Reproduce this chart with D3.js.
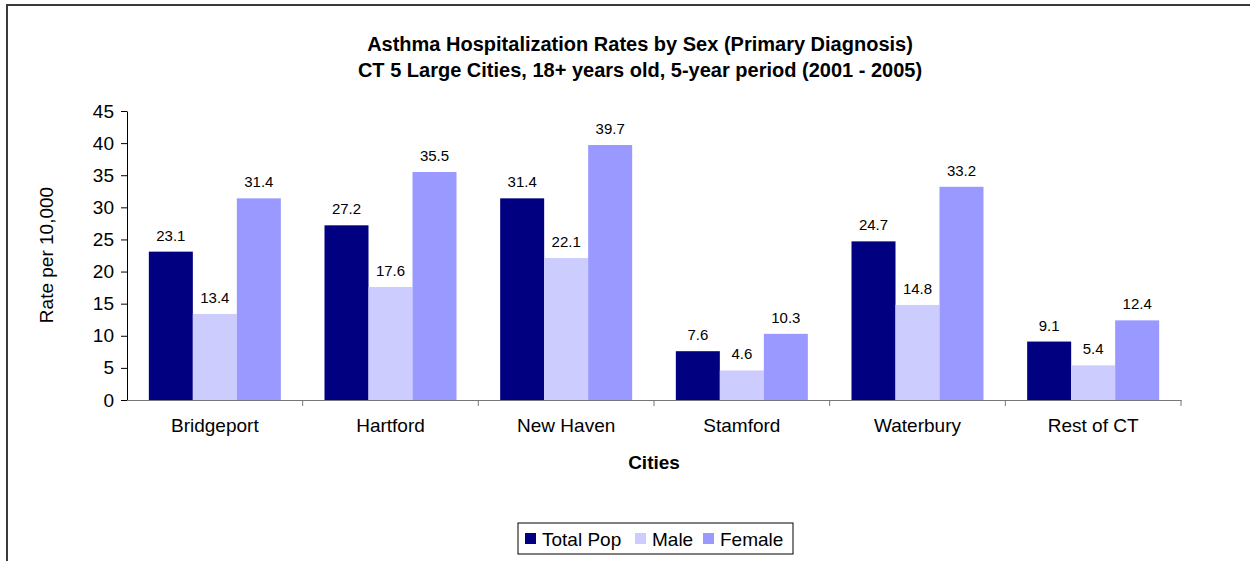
<!DOCTYPE html>
<html>
<head>
<meta charset="utf-8">
<script src="https://cdn.jsdelivr.net/npm/d3@7/dist/d3.min.js"></script>
<style>
  body { margin: 0; background: #fff; }
  text { font-family: "Liberation Sans", Arial, sans-serif; }
</style>
</head>
<body>
<div id="chart"></div>
<script>
var cities = ["Bridgeport", "Hartford", "New Haven", "Stamford", "Waterbury", "Rest of CT"];
var seriesNames = ["Total Pop", "Male", "Female"];
var totalPop = [23.1, 27.2, 31.4, 7.6, 24.7, 9.1];
var male = [13.4, 17.6, 22.1, 4.6, 14.8, 5.4];
var female = [31.4, 35.5, 39.7, 10.3, 33.2, 12.4];
var yTicks = [0, 5, 10, 15, 20, 25, 30, 35, 40, 45];
var colors = ["#000080", "#ccccff", "#9999ff"];

var W = 1250, H = 561;
var svg = d3.select("#chart").append("svg")
    .attr("width", W)
    .attr("height", H);

// outer frame (runs off the right and bottom of the picture)
svg.append("rect")
    .attr("x", 7).attr("y", 5)
    .attr("width", 1260).attr("height", 580)
    .attr("fill", "none")
    .attr("stroke", "#3a3a3a")
    .attr("stroke-width", 2);

var plot = { left: 127, right: 1181, top: 111, bottom: 400 };

var rows = cities.map(function(c, i) {
    return { city: c, values: [totalPop[i], male[i], female[i]] };
});

var x0 = d3.scaleBand()
    .domain(cities)
    .range([plot.left, plot.right]);

// 3 bars of ~44px centred in each band
var groupW = 132;
var x1 = d3.scaleBand()
    .domain(seriesNames)
    .range([(x0.bandwidth() - groupW) / 2, (x0.bandwidth() + groupW) / 2])
    .padding(0);

var y = d3.scaleLinear()
    .domain([0, 45])
    .range([plot.bottom, plot.top]);

// bars
var groups = svg.selectAll(".city")
    .data(rows)
    .enter()
    .append("g")
    .attr("class", "city")
    .attr("transform", function(d) { return "translate(" + x0(d.city) + ",0)"; });

groups.selectAll("rect")
    .data(function(d) { return d.values.map(function(v, i) { return { name: seriesNames[i], v: v, i: i }; }); })
    .enter()
    .append("rect")
    .attr("x", function(d) { return x1(d.name); })
    .attr("y", function(d) { return y(d.v); })
    .attr("width", x1.bandwidth())
    .attr("height", function(d) { return plot.bottom - y(d.v); })
    .attr("fill", function(d) { return colors[d.i]; });

groups.selectAll(".bar-label")
    .data(function(d) { return d.values.map(function(v, i) { return { name: seriesNames[i], v: v }; }); })
    .enter()
    .append("text")
    .attr("class", "bar-label")
    .attr("x", function(d) { return x1(d.name) + x1.bandwidth() / 2; })
    .attr("y", function(d) { return y(d.v) - 11; })
    .attr("text-anchor", "middle")
    .attr("font-size", "15px")
    .attr("fill", "#000")
    .text(function(d) { return d.v.toFixed(1); });

// y axis
var yAxis = svg.append("g")
    .attr("transform", "translate(" + plot.left + ",0)")
    .call(d3.axisLeft(y).tickValues(yTicks).tickSize(6).tickSizeOuter(0));
yAxis.select(".domain").attr("stroke", "#000");
yAxis.selectAll(".tick line").attr("stroke", "#000");
yAxis.selectAll(".tick text")
    .attr("font-size", "19px")
    .attr("font-family", "Liberation Sans, Arial, sans-serif")
    .attr("fill", "#000")
    .attr("x", -13);

// x axis
var xAxis = svg.append("g")
    .attr("transform", "translate(0," + plot.bottom + ")")
    .call(d3.axisBottom(x0).tickSize(0).tickSizeOuter(0));
xAxis.select(".domain").attr("stroke", "#777");
xAxis.selectAll(".tick text")
    .attr("font-size", "19px")
    .attr("font-family", "Liberation Sans, Arial, sans-serif")
    .attr("fill", "#000")
    .attr("y", 19);

// separator ticks between categories
svg.selectAll(".sep")
    .data(cities.slice(1).concat(["__end"]))
    .enter()
    .append("line")
    .attr("class", "sep")
    .attr("x1", function(d) { return d === "__end" ? plot.right : x0(d); })
    .attr("x2", function(d) { return d === "__end" ? plot.right : x0(d); })
    .attr("y1", plot.bottom)
    .attr("y2", plot.bottom + 6)
    .attr("stroke", "#777");

// titles
svg.append("text")
    .attr("x", 640).attr("y", 51)
    .attr("text-anchor", "middle")
    .attr("font-size", "20px")
    .attr("font-weight", "bold")
    .text("Asthma Hospitalization Rates by Sex (Primary Diagnosis)");
svg.append("text")
    .attr("x", 640).attr("y", 77)
    .attr("text-anchor", "middle")
    .attr("font-size", "20px")
    .attr("font-weight", "bold")
    .text("CT 5 Large Cities, 18+ years old, 5-year period (2001 - 2005)");

svg.append("text")
    .attr("transform", "translate(53,255) rotate(-90)")
    .attr("text-anchor", "middle")
    .attr("font-size", "19px")
    .text("Rate per 10,000");

svg.append("text")
    .attr("x", 654).attr("y", 469)
    .attr("text-anchor", "middle")
    .attr("font-size", "19px")
    .attr("font-weight", "bold")
    .text("Cities");

// legend
var legend = svg.append("g").attr("transform", "translate(518,523)");
legend.append("rect")
    .attr("width", 275).attr("height", 31)
    .attr("fill", "#fff")
    .attr("stroke", "#000")
    .attr("stroke-width", 1);
var legX = [7, 117, 185];
var items = legend.selectAll(".leg")
    .data(seriesNames)
    .enter()
    .append("g")
    .attr("class", "leg")
    .attr("transform", function(d, i) { return "translate(" + legX[i] + ",0)"; });
items.append("rect")
    .attr("y", 10).attr("width", 11).attr("height", 11)
    .attr("fill", function(d, i) { return colors[i]; });
items.append("text")
    .attr("x", 17).attr("y", 23)
    .attr("font-size", "19px")
    .text(function(d) { return d; });
</script>
</body>
</html>
